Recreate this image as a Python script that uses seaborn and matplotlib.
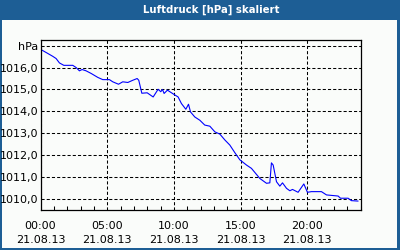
import matplotlib
matplotlib.use("Agg")
import matplotlib.pyplot as plt
from matplotlib.patches import Rectangle
from matplotlib.ticker import MultipleLocator
import seaborn as sns
import pandas as pd

# ---- data ----
hours = [0.0, 0.55, 0.92, 1.17, 1.42, 1.75, 2.42, 2.67, 2.92, 3.12, 3.42, 3.80,
         4.30, 4.67, 5.17, 5.42, 5.85, 6.17, 6.55, 6.92, 7.25, 7.37, 7.60, 8.00,
         8.45, 8.82, 9.02, 9.15, 9.27, 9.52, 9.95, 10.32, 10.57, 10.90, 11.10,
         11.25, 11.57, 11.95, 12.32, 12.70, 13.08, 13.45, 13.83, 14.20, 14.58,
         14.95, 15.45, 15.82, 16.45, 16.95, 17.20, 17.32, 17.45, 17.70, 17.95,
         18.15, 18.45, 18.70, 18.90, 19.32, 19.75, 20.02, 20.32, 21.07, 21.45,
         22.32, 22.50, 23.07, 23.32, 23.82]
pressure = [1016.83, 1016.64, 1016.51, 1016.41, 1016.21, 1016.10, 1016.10, 1016.00,
            1015.85, 1015.91, 1015.85, 1015.73, 1015.55, 1015.45, 1015.45, 1015.35,
            1015.24, 1015.35, 1015.32, 1015.42, 1015.50, 1015.42, 1014.83, 1014.85,
            1014.66, 1015.01, 1014.90, 1015.00, 1014.82, 1014.97, 1014.80, 1014.66,
            1014.36, 1014.10, 1014.33, 1013.98, 1013.75, 1013.60, 1013.38, 1013.33,
            1013.07, 1012.97, 1012.70, 1012.47, 1012.12, 1011.80, 1011.56, 1011.41,
            1010.95, 1010.73, 1010.75, 1011.66, 1011.56, 1010.80, 1010.60, 1010.75,
            1010.50, 1010.39, 1010.45, 1010.32, 1010.70, 1010.32, 1010.35, 1010.35,
            1010.20, 1010.15, 1010.05, 1010.05, 1009.94, 1009.92]

x_ticks = [0, 5, 10, 15, 20]
x_labels = ["00:00\n21.08.13", "05:00\n21.08.13", "10:00\n21.08.13",
            "15:00\n21.08.13", "20:00\n21.08.13"]
y_ticks = [1010, 1011, 1012, 1013, 1014, 1015, 1016, 1017]
y_labels = ["1010,0", "1011,0", "1012,0", "1013,0", "1014,0", "1015,0", "1016,0", "hPa"]
title = "Luftdruck [hPa] skaliert"

df = pd.DataFrame({"h": hours, "p": pressure})

sns.set_style("white")
plt.rcParams["font.family"] = ["DejaVu Sans"]

W, H = 400, 250
BLUE = "#1d5e95"
BG = "#fafcfa"
fig = plt.figure(figsize=(W / 100, H / 100), dpi=100)
fig.patch.set_facecolor(BLUE)
fig.add_artist(Rectangle((2 / W, 2 / H), 395 / W, 228 / H,
                         transform=fig.transFigure, facecolor=BG,
                         edgecolor="none", zorder=0))
fig.text(211 / W, 1 - 10 / H, title, color="white", fontsize=7.3,
         fontweight="bold", ha="center", va="center")

ax = fig.add_axes([40.5 / W, (H - 210.3) / H, 320 / W, 170 / H])
ax.set_facecolor(BG)
sns.lineplot(data=df, x="h", y="p", ax=ax, color="#0000ff", linewidth=0.8)

ax.set_xlim(0, 24)
ax.set_ylim(1009.5, 1017.24)
ax.set_xticks(x_ticks)
ax.set_xticklabels(x_labels, linespacing=1.45)
ax.xaxis.set_minor_locator(MultipleLocator(1))
ax.set_yticks(y_ticks)
ax.set_yticklabels(y_labels)
ax.set_xlabel("")
ax.set_ylabel("")

ax.grid(True, which="major", color="black", linestyle=(0, (3, 2)), linewidth=0.75)
ax.tick_params(axis="x", which="major", direction="in", length=3, width=0.75,
               labelsize=8, pad=8, colors="black")
ax.tick_params(axis="x", which="minor", direction="in", length=3, width=0.75,
               bottom=True, colors="black")
ax.tick_params(axis="y", which="major", length=0, labelsize=8, pad=1.5,
               colors="black")
for s in ax.spines.values():
    s.set_visible(True)
    s.set_color("black")
    s.set_linewidth(0.9)

fig.savefig("out.png", dpi=100, facecolor=fig.get_facecolor())
